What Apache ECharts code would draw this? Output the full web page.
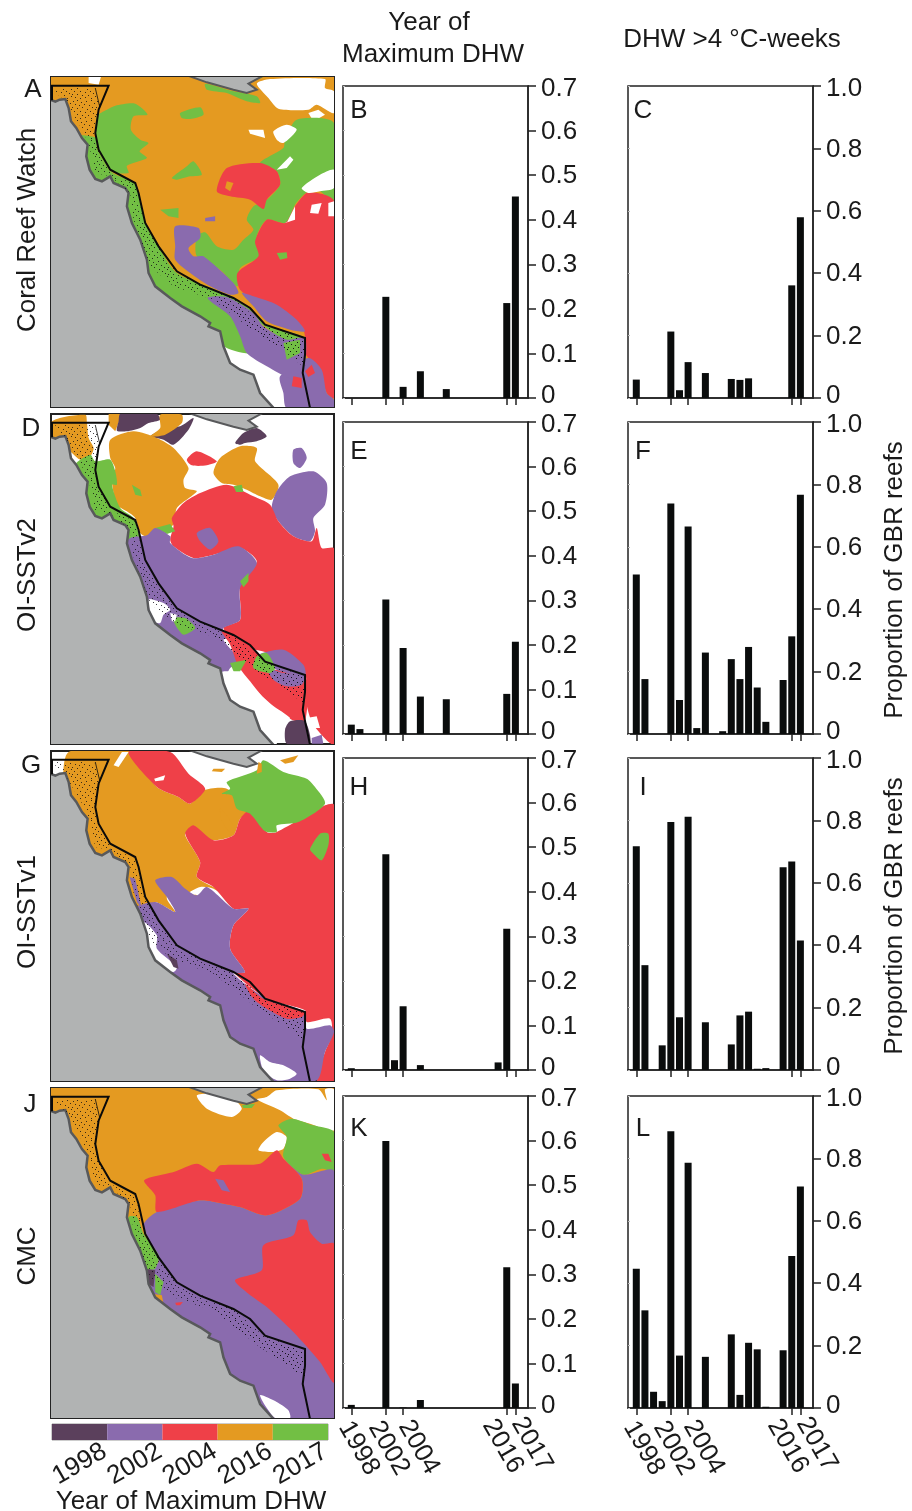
<!DOCTYPE html>
<html><head><meta charset="utf-8">
<style>html,body{margin:0;padding:0;background:#fff}#c{width:912px;height:1511px}</style>
<script src="https://cdn.jsdelivr.net/npm/echarts@6/dist/echarts.min.js"></script>
</head><body><div id="c"></div>
<script>
const legendYears = ['1998','2002','2004','2016','2017'];
const tickYears = [1998,2002,2004,2016,2017];
const colorOf = {1998:'#5b405c',2002:'#8a6bae',2004:'#ef4048',2016:'#e49a21',2017:'#72bf44',w:'#ffffff'};

// Year-of-maximum panels: [year, proportion]
const panelB = [[2002,.227],[2004,.025],[2006,.06],[2009,.02],[2016,.213],[2017,.452]];
const panelE = [[1998,.021],[1999,.011],[2002,.302],[2004,.193],[2006,.084],[2009,.078],[2016,.09],[2017,.207]];
const panelH = [[1998,.004],[2002,.484],[2003,.022],[2004,.143],[2006,.011],[2015,.017],[2016,.317]];
const panelK = [[1998,.007],[2002,.599],[2004,.001],[2006,.018],[2016,.316],[2017,.055]];
// DHW > 4 panels
const panelC = [[1998,.059],[2002,.213],[2003,.025],[2004,.115],[2006,.08],[2009,.061],[2010,.058],[2011,.063],[2016,.361],[2017,.579]];
const panelF = [[1998,.511],[1999,.176],[2002,.739],[2003,.109],[2004,.665],[2005,.019],[2006,.261],[2008,.009],[2009,.24],[2010,.176],[2011,.279],[2012,.149],[2013,.039],[2015,.173],[2016,.313],[2017,.767]];
const panelI = [[1998,.717],[1999,.336],[2001,.079],[2002,.795],[2003,.169],[2004,.812],[2006,.153],[2009,.082],[2010,.175],[2011,.187],[2012,.004],[2013,.006],[2015,.65],[2016,.668],[2017,.415]];
const panelL = [[1998,.446],[1999,.313],[2000,.052],[2001,.022],[2002,.887],[2003,.168],[2004,.786],[2006,.164],[2009,.236],[2010,.042],[2011,.209],[2012,.188],[2013,.004],[2015,.185],[2016,.487],[2017,.71]];

// Shared geography, in map units (panel A frame)
const land = [[140,122],[155,122],[165,126],[178,120],[195,118],[205,145],[212,185],[228,205],[245,235],[262,255],[258,290],[268,330],[285,358],[305,365],[330,350],[340,370],[375,385],[385,400],[380,440],[395,490],[420,540],[440,600],[445,640],[465,680],[510,715],[545,740],[600,770],[630,790],[625,800],[660,815],[670,860],[690,910],[720,930],[760,945],[780,1000],[825,1050],[140,1050]];
const landNorth = [[555,45],[620,68],[700,90],[740,100],[770,90],[745,72],[795,45]];
const reefLine = [[155,122],[155,78],[325,78],[295,150],[285,220],[295,270],[330,330],[405,370],[415,400],[435,490],[475,560],[530,635],[600,675],[700,715],[750,745],[795,795],[915,835],[915,885],[908,940],[930,1045]];
const reefInner = [[285,85],[298,140]];
const reefStipple = [[165,85],[280,85],[300,140],[285,200],[285,240],[330,340],[405,375],[430,490],[530,640],[700,715],[790,795],[915,840],[915,925],[860,880],[780,830],[640,720],[520,680],[450,620],[400,480],[390,400],[330,350],[285,340],[265,250],[240,200],[210,150],[195,120],[165,100]];
const reefStippleDense = [[640,715],[700,720],[790,800],[915,840],[915,925],[860,880],[780,830]];
const stippleDots = [[1,1],[5,0],[9,2],[14,1],[19,0],[22,3],[3,4],[7,5],[12,4],[17,5],[0,7],[5,8],[10,7],[15,9],[20,7],[23,9],[2,11],[8,11],[13,12],[18,11],[0,14],[5,14],[10,15],[16,15],[21,13],[3,17],[8,18],[13,17],[19,18],[23,16]];

const mapA = [
 [2016,[[152,52],[1002,52],[1002,1042],[152,1042]]],
 ['w',[[770,72],[810,58],[975,58],[975,85],[1002,95],[1002,160],[950,135],[925,150],[835,147],[805,115]]],
 ['w',[[925,160],[955,150],[975,165],[940,185]]],
 ['w',[[265,52],[302,52],[295,75],[265,70]]],
 [2017,[[615,72],[700,95],[770,110],[780,130],[740,125],[680,100],[620,90]]],
 [2017,[[730,52],[790,52],[745,70]]],
 [2017,[[290,170],[320,150],[345,138],[405,132],[442,165],[400,170],[392,210],[420,240],[445,250],[418,275],[440,295],[380,318],[385,340],[330,335],[290,260]]],
 [2017,[[540,160],[600,143],[610,165],[570,178],[545,175]]],
 [2017,[[515,355],[560,320],[580,305],[605,345],[570,350],[530,360]]],
 [2017,[[480,450],[535,445],[535,475],[505,470]]],
 [2017,[[780,310],[850,265],[855,240],[890,180],[1002,190],[1002,430],[960,395],[925,395],[885,435],[860,490],[800,480],[770,530],[780,590],[720,625],[712,680],[660,630],[590,590],[590,530],[615,518],[650,560],[700,570],[730,540],[760,510],[740,480],[760,440],[800,420],[840,375],[830,335]]],
 [2004,[[650,395],[680,325],[780,310],[830,335],[840,375],[800,420],[790,448],[750,420],[690,410]]],
 [2016,[[680,365],[700,370],[690,395],[675,385]]],
 [2004,[[925,398],[1002,425],[1002,1015],[980,1000],[960,930],[930,900],[915,880],[915,830],[905,800],[860,770],[790,735],[720,690],[712,640],[775,590],[765,545],[800,480],[855,490],[885,440]]],
 ['w',[[860,490],[885,440],[885,480],[855,490]]],
 ['w',[[935,435],[965,430],[955,462],[930,460]]],
 ['w',[[985,430],[1002,425],[1002,470],[985,470]]],
 ['w',[[905,385],[960,345],[1002,330],[1002,385],[960,395],[925,400]]],
 ['w',[[830,330],[870,290],[880,300],[860,325]]],
 ['w',[[745,210],[790,210],[795,235],[750,222]]],
 ['w',[[820,215],[860,195],[890,210],[850,250],[830,240]]],
 [2017,[[830,580],[860,578],[862,595],[840,600]]],
 [2002,[[525,500],[595,505],[600,535],[565,565],[580,590],[610,590],[700,670],[715,700],[690,705],[630,680],[570,640],[525,600],[525,560]]],
 [2002,[[615,475],[645,470],[645,485],[615,485]]],
 [2002,[[725,700],[760,710],[830,735],[890,780],[915,815],[870,810],[800,785],[760,740]]],
 ['w',[[650,810],[700,820],[760,890],[860,950],[880,1050],[790,1050],[690,930]]],
 [2002,[[840,950],[925,895],[965,930],[980,1000],[1002,1020],[1002,1045],[860,1045],[850,1000]]],
 [2017,[[620,710],[700,730],[760,800],[770,880],[680,865],[600,790]]],
 [2017,[[225,230],[290,235],[290,265],[330,335],[405,372],[415,400],[435,490],[480,570],[530,640],[620,680],[700,715],[760,755],[795,795],[915,835],[900,890],[855,890],[840,840],[780,790],[720,745],[625,712],[680,760],[720,815],[725,835],[680,855],[590,810],[380,640],[220,300]]],
 [2002,[[622,715],[680,712],[760,760],[790,800],[860,840],[915,835],[910,940],[880,960],[800,920],[740,880],[720,830],[690,770]]],
 [2017,[[850,850],[900,840],[900,880],[860,900]]],
 [2004,[[880,950],[905,955],[905,985],[875,980]]],
 [2004,[[915,935],[935,915],[945,940],[925,952]]]
];
const mapD = [
 [2016,[[155,50],[255,30],[260,55],[265,100],[280,130],[270,155],[240,165],[215,145],[190,120],[155,120]]],
 [2016,[[325,28],[365,28],[345,80],[325,60]]],
 [1998,[[360,28],[470,28],[480,45],[445,55],[420,70],[380,80],[350,78],[355,50]]],
 [1998,[[450,95],[500,70],[540,65],[580,40],[565,75],[520,120],[490,105]]],
 [2016,[[480,30],[545,30],[545,55],[495,90],[450,95],[480,70]]],
 [1998,[[705,115],[730,85],[770,70],[800,95],[770,110],[735,115],[720,120]]],
 [2016,[[330,105],[400,80],[470,100],[520,130],[565,190],[550,225],[555,250],[590,260],[530,310],[520,360],[440,395],[420,385],[405,340],[380,320],[350,300],[335,230],[345,190],[330,160]]],
 [2017,[[225,180],[270,150],[285,170],[330,165],[345,200],[350,240],[335,240],[360,310],[400,340],[420,395],[440,395],[385,405],[360,395],[320,360],[255,345],[240,260]]],
 [2017,[[395,240],[420,255],[425,275],[405,270]]],
 [2004,[[560,165],[590,140],[650,170],[620,182],[575,182]]],
 [2016,[[640,205],[660,160],[720,125],[770,130],[765,170],[835,240],[815,285],[780,275],[740,255],[700,240],[665,235]]],
 [2002,[[815,310],[830,260],[870,215],[940,200],[980,235],[975,300],[940,340],[945,380],[930,410],[880,395],[835,350]]],
 [2002,[[880,135],[905,130],[920,160],[900,190],[880,175]]],
 [2004,[[515,340],[550,295],[600,265],[680,240],[760,275],[810,300],[835,350],[880,395],[935,410],[950,370],[965,430],[1002,432],[1002,1017],[940,960],[920,900],[915,810],[820,750],[720,720],[670,670],[720,645],[720,540],[770,470],[720,430],[640,450],[580,460],[520,425],[510,405],[520,365]]],
 [2017,[[700,245],[725,240],[730,262],[708,262]]],
 [2017,[[465,370],[510,358],[525,380],[500,388]]],
 [2002,[[390,400],[440,392],[465,370],[510,395],[510,415],[575,460],[640,450],[715,425],[770,475],[720,550],[720,645],[668,672],[700,700],[670,705],[720,770],[690,790],[680,805],[610,815],[520,745],[450,690],[425,625],[395,545],[355,440]]],
 [2002,[[590,385],[630,370],[655,410],[630,435],[600,410]]],
 [2017,[[720,530],[745,505],[745,530],[730,548]]],
 [2017,[[520,640],[555,640],[585,670],[550,690],[525,660]]],
 ['w',[[445,585],[490,595],[510,615],[490,630],[480,655],[460,650]]],
 ['w',[[510,625],[530,630],[525,650],[515,650]]],
 [2004,[[665,680],[720,700],[775,745],[800,790],[915,810],[915,950],[875,945],[800,890],[750,830],[715,785],[690,720]]],
 [2002,[[775,750],[850,735],[910,780],[915,810],[840,800],[790,770]]],
 [2002,[[800,790],[850,805],[915,810],[905,840],[860,845],[820,825]]],
 [2017,[[770,755],[800,745],[825,790],[810,805],[760,790]]],
 [2017,[[690,775],[740,765],[720,800],[700,800]]],
 ['w',[[660,805],[715,805],[760,850],[815,900],[870,940],[850,950],[830,1017],[790,1017],[690,930]]],
 [1998,[[855,975],[870,950],[915,950],[930,1017],[860,1017]]],
 [2002,[[935,1000],[965,990],[970,1017],[935,1017]]],
 ['w',[[920,940],[950,935],[960,970],[940,970]]]
];
const mapG = [
 [2016,[[205,20],[385,17],[470,125],[535,155],[570,175],[610,135],[680,130],[750,195],[720,220],[700,270],[640,285],[555,265],[600,350],[590,395],[640,425],[700,455],[700,470],[640,430],[600,425],[555,450],[590,450],[595,490],[560,450],[510,430],[500,460],[525,500],[465,470],[440,490],[385,500],[370,410],[270,345],[240,300],[220,200],[190,130]]],
 [2004,[[385,20],[510,20],[565,85],[615,130],[570,175],[535,155],[470,125]]],
 ['w',[[462,100],[495,90],[490,105],[465,108]]],
 ['w',[[340,60],[365,20],[385,20],[355,65]]],
 [2004,[[555,265],[580,240],[640,285],[700,270],[720,220],[750,195],[800,260],[830,260],[975,180],[1002,178],[1002,1005],[950,1005],[975,920],[995,870],[990,820],[920,830],[915,795],[800,760],[700,680],[735,680],[690,610],[700,540],[745,490],[700,490],[640,425],[590,395],[600,350]]],
 [2016,[[660,190],[680,210],[705,255],[690,262],[665,225]]],
 [2017,[[665,145],[690,130],[680,110],[770,75],[790,45],[850,80],[920,100],[945,125],[975,175],[895,230],[830,240],[830,260],[795,258],[750,205],[710,190],[695,150]]],
 [2017,[[930,310],[960,265],[985,265],[985,300],[965,345],[935,320]]],
 [2016,[[640,70],[675,70],[665,80],[635,78]]],
 [2016,[[840,45],[895,30],[880,50],[855,55]]],
 [2016,[[770,85],[775,50],[785,55],[785,80]]],
 [2002,[[465,405],[515,395],[555,430],[590,450],[620,425],[700,490],[745,490],[700,540],[690,610],[735,680],[700,685],[800,760],[915,800],[920,850],[990,840],[1002,860],[975,920],[950,1005],[800,1010],[760,960],[700,920],[650,850],[610,780],[520,710],[450,660],[410,540],[400,490],[465,470],[525,500],[500,455]]],
 [2002,[[388,395],[405,400],[425,490],[410,470]]],
 [2004,[[735,715],[790,760],[915,800],[905,815],[860,820],[800,790],[760,760]]],
 ['w',[[430,530],[470,570],[470,610],[530,665],[520,680],[460,660],[430,590]]],
 [1998,[[500,625],[530,645],[535,670],[520,665]]],
 ['w',[[780,930],[810,950],[850,960],[890,985],[870,1000],[830,1005],[790,975]]]
];
const mapJ = [
 [2016,[[152,8],[1002,8],[1002,998],[152,998]]],
 ['w',[[590,30],[650,25],[700,40],[725,70],[695,95],[620,70]]],
 ['w',[[770,42],[800,35],[830,15],[955,12],[980,45],[975,12],[1002,12],[1002,135],[930,115],[880,100],[840,75]]],
 [2017,[[725,60],[765,55],[755,68],[730,68]]],
 ['w',[[775,195],[790,170],[830,140],[860,155],[850,190],[815,200]]],
 [2017,[[835,120],[875,100],[940,120],[1002,140],[1002,255],[965,250],[910,268],[850,215],[860,155]]],
 [2004,[[965,205],[985,205],[995,230],[975,225]]],
 [2002,[[430,420],[470,380],[600,345],[670,355],[720,365],[800,390],[900,340],[905,280],[850,220],[910,268],[1002,258],[1002,998],[800,1000],[770,970],[740,920],[680,890],[650,830],[650,790],[590,740],[510,690],[455,650],[450,590],[440,540],[475,530]]],
 [2004,[[432,285],[520,260],[590,235],[640,260],[660,240],[780,235],[830,195],[850,220],[905,280],[900,340],[800,390],[720,365],[670,355],[600,345],[470,380],[465,330]]],
 [2002,[[645,280],[670,285],[690,320],[665,315]]],
 [2004,[[705,585],[785,555],[790,480],[880,450],[895,405],[920,405],[930,440],[965,475],[1002,475],[1002,890],[960,830],[880,740],[800,665],[745,625]]],
 [2017,[[385,395],[410,395],[430,445],[475,510],[465,550],[435,550],[420,510],[395,470],[385,430]]],
 [1998,[[435,550],[465,555],[460,605],[435,590]]],
 [2017,[[465,565],[490,590],[480,630],[465,620]]],
 [2016,[[455,625],[485,630],[490,655],[460,650]]],
 [2004,[[525,652],[548,650],[540,660],[528,660]]],
 ['w',[[780,930],[830,950],[865,975],[870,998],[825,998]]]
];

const mapFrames = [
 {layers:mapA, top:77, zt:52},
 {layers:mapD, top:414, zt:28},
 {layers:mapG, top:751, zt:17},
 {layers:mapJ, top:1088, zt:8}
];
const rowTops = [86,422,758,1096];
const rowData = [[panelB,panelC],[panelE,panelF],[panelH,panelI],[panelK,panelL]];
const letters = [['A','B','C'],['D','E','F'],['G','H','I'],['J','K','L']];
const rowNames = ['Coral Reef Watch','OI-SSTv2','OI-SSTv1','CMC'];
const FONT = '"Liberation Sans",Arial,sans-serif';
const FS = 26, INK = '#1a1a1a';

const pc = document.createElement('canvas'); pc.width=24; pc.height=20;
const pctx = pc.getContext('2d'); pctx.fillStyle='rgba(15,15,20,0.8)';
stippleDots.forEach(d=>pctx.fillRect(d[0],d[1],1,1));
const stipplePattern = {image:pc, repeat:'repeat'};

const grids=[], xAxes=[], yAxes=[], series=[], graphics=[];

function addBar(left,top,data,ymax,step){
  const g=grids.length;
  const rich={fontSize:FS,fontFamily:FONT,color:INK};
  grids.push({left,top,width:185,height:312,show:true,borderColor:'#222',borderWidth:1.5,backgroundColor:'#fff'});
  xAxes.push({gridIndex:g,type:'value',min:1997.04,max:2018.46,splitLine:{show:false},
    axisLine:{show:true,lineStyle:{color:'#222',width:1.5}},
    axisTick:{show:true,length:7,customValues:tickYears,lineStyle:{color:'#222',width:1.5}},
    axisLabel:{show:false}});
  const y0=yAxes.length;
  yAxes.push({gridIndex:g,type:'value',position:'right',min:0,max:ymax,interval:step,splitLine:{show:false},
    axisLine:{show:true,lineStyle:{color:'#222',width:1.5}},
    axisTick:{show:true,length:8,lineStyle:{color:'#222',width:1.5}},
    axisLabel:{margin:13,fontSize:FS,fontFamily:FONT,color:INK,
      formatter:v=>v===0?'{z|0}':(Math.abs(v-ymax)<1e-6?`{t|${v.toFixed(1)}}`:`{m|${v.toFixed(1)}}`),
      rich:{z:{...rich,padding:[0,0,5,0]},t:{...rich,padding:[5,0,0,0]},m:{...rich,padding:[2,0,0,0]}}}});
  yAxes.push({gridIndex:g,type:'value',position:'left',min:0,max:ymax,interval:step,splitLine:{show:false},
    axisLine:{show:false},axisLabel:{show:false},
    axisTick:{show:true,inside:true,length:2,lineStyle:{color:'#bbb',width:1}}});
  series.push({type:'bar',xAxisIndex:g,yAxisIndex:y0,data,barWidth:7,itemStyle:{color:'#0a0c0c'},silent:true,animation:false});
}

function addMap(frame){
  const g=grids.length, zt=frame.zt, dy=zt-52;
  grids.push({left:51,top:frame.top,width:283,height:330,show:true,borderColor:'#222',borderWidth:2,backgroundColor:'#fff'});
  xAxes.push({gridIndex:g,type:'value',min:152,max:1002,show:false});
  yAxes.push({gridIndex:g,type:'value',min:zt,max:zt+990,inverse:true,show:false});
  const shift=p=>p.map(q=>[q[0],q[1]+dy]);
  const items=[];
  frame.layers.forEach(l=>items.push({kind:'poly',fill:colorOf[l[0]],pts:l[1],smooth:l[1].length>4?0.25:0}));
  items.push({kind:'poly',fill:'#b1b3b3',stroke:'#58595b',lw:2.5,pts:shift(land)});
  items.push({kind:'poly',fill:'#b1b3b3',stroke:'#58595b',lw:2,pts:shift(landNorth)});
  items.push({kind:'poly',fill:stipplePattern,pts:shift(reefStipple)});
  items.push({kind:'poly',fill:stipplePattern,pts:shift(reefStippleDense)});
  items.push({kind:'line',pts:shift(reefInner),lw:0.8});
  items.push({kind:'line',pts:shift(reefLine),lw:2});
  series.push({type:'custom',xAxisIndex:g,yAxisIndex:yAxes.length-1,clip:true,silent:true,animation:false,
    data:items.map((_,i)=>[i]),
    encode:{x:[],y:[]},
    renderItem:(p,api)=>{
      const it=items[p.dataIndex], pts=it.pts.map(q=>api.coord(q));
      if(it.kind==='line') return {type:'polyline',shape:{points:pts},style:{stroke:'#0a0a0a',lineWidth:it.lw,fill:null}};
      return {type:'polygon',shape:{points:pts,smooth:it.smooth||0},style:{fill:it.fill,stroke:it.stroke||null,lineWidth:it.lw||0}};
    }});
}

mapFrames.forEach(addMap);
rowData.forEach((r,i)=>{
  addBar(343,rowTops[i],r[0],0.7,0.1);
  addBar(628,rowTops[i],r[1],1.0,0.2);
});

// colour bar
{
  const g=grids.length;
  grids.push({left:52,top:1424,width:276,height:16,show:true,borderColor:'#999',borderWidth:1});
  xAxes.push({gridIndex:g,type:'category',data:legendYears,axisLine:{show:false},
    axisTick:{show:true,inside:true,alignWithLabel:true,length:2,lineStyle:{color:'#555'}},
    axisLabel:{interval:0,hideOverlap:false,rotate:30,margin:24,align:'center',verticalAlign:'middle',fontSize:FS,fontFamily:FONT,color:INK}});
  yAxes.push({gridIndex:g,type:'value',min:0,max:1,show:false});
  series.push({type:'bar',xAxisIndex:g,yAxisIndex:yAxes.length-1,barCategoryGap:0,silent:true,animation:false,
    data:legendYears.map(y=>({value:1,itemStyle:{color:colorOf[y]}}))});
}

function txt(t,x,y,opt={}){
  const r=opt.rot||0;
  graphics.push({type:'text',x:x+2.5*Math.sin(r),y:y+2.5*Math.cos(r),rotation:r,silent:true,z:50,
    style:{text:t,fill:INK,font:`${opt.fs||FS}px ${FONT}`,textAlign:'center',textVerticalAlign:'middle',verticalAlign:'middle',align:'center'}});
}
txt('Year of',429,20); txt('Maximum DHW',433,52); txt('DHW >4 °C-weeks',732,37);
txt('Year of Maximum DHW',191,1499);
const letterPos=[[33,87],[31,426],[31,763],[30,1102]];
const innerLetterY=[108,449,785,1126];
letters.forEach((r,i)=>{
  txt(r[0],letterPos[i][0],letterPos[i][1]);
  txt(r[1],359,innerLetterY[i]);
  txt(r[2],643,innerLetterY[i]);
});
const rowNameY=[230,575,912,1256];
rowNames.forEach((n,i)=>txt(n,25,rowNameY[i],{rot:Math.PI/2}));
txt('Proportion of GBR reefs',892,580,{rot:Math.PI/2});
txt('Proportion of GBR reefs',892,916,{rot:Math.PI/2});
// rotated year labels under the bottom row
const yearLabelCentres=[[361,1447],[391,1447],[421,1446],[505,1445],[534,1443]];
[0,285].forEach(dx=>yearLabelCentres.forEach((c,i)=>txt(legendYears[i],c[0]+dx,c[1],{rot:-Math.PI/3})));

const chart=echarts.init(document.getElementById('c'),null,{renderer:'canvas'});
chart.setOption({animation:false,backgroundColor:'#fff',tooltip:{show:false},grid:grids,xAxis:xAxes,yAxis:yAxes,series,graphic:{elements:graphics}});
</script></body></html>
